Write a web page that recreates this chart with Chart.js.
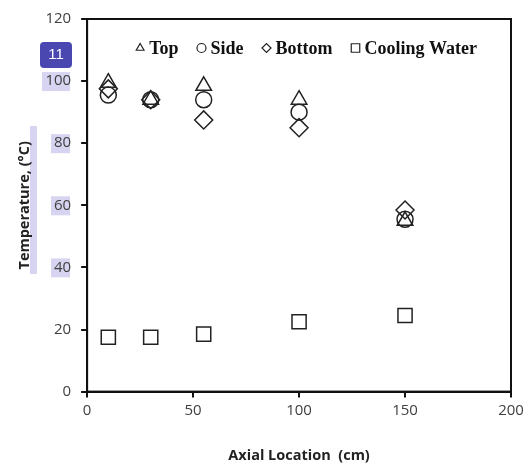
<!DOCTYPE html>
<html>
<head>
<meta charset="utf-8">
<script src="https://cdn.jsdelivr.net/npm/chart.js@4/dist/chart.umd.min.js"></script>
<style>
  html, body { margin: 0; padding: 0; background: #fff; }
  #wrap { width: 525px; height: 465px; }
</style>
</head>
<body>
<div id="wrap"><canvas id="myChart"></canvas></div>
<script>
var xValues = [10, 30, 55, 100, 150];
var topTemps = [99.5, 94, 98.5, 94, 55];
var sideTemps = [95.5, 94, 94, 90, 55.5];
var bottomTemps = [97.5, 94, 87.5, 85, 58.5];
var waterTemps = [17.5, 17.5, 18.5, 22.5, 24.5];
var highlightTicks = [100, 80, 60, 40];

function pts(ys) {
  return xValues.map(function (x, i) { return {x: x, y: ys[i]}; });
}

// box round the plot area
var frame = {
  id: "frame",
  afterDatasetsDraw: function (chart) {
    var a = chart.chartArea, ctx = chart.ctx;
    ctx.save();
    ctx.strokeStyle = "#111";
    ctx.lineWidth = 2;
    ctx.strokeRect(a.left, a.top, a.right - a.left, a.bottom - a.top);
    ctx.restore();
  }
};

// one-row key inside the plot, near the top
var inlineKey = {
  id: "inlineKey",
  afterDatasetsDraw: function (chart) {
    var ctx = chart.ctx, a = chart.chartArea;
    var sets = chart.data.datasets;
    ctx.save();
    ctx.font = "bold 18px 'Liberation Serif', serif";
    ctx.textBaseline = "middle";
    var symW = 8, gapSym = 5, gapItem = 19;
    var x = a.left + 49;
    var y = a.top + 29;
    sets.forEach(function (ds) {
      ctx.strokeStyle = "#222";
      ctx.fillStyle = "#fff";
      ctx.lineWidth = 1.2;
      Chart.helpers.drawPoint(ctx, {pointStyle: ds.pointStyle, radius: ds.pointStyle === "rect" ? 6 : 4.5, borderWidth: 1.2}, x + symW / 2, y);
      ctx.fillStyle = "#111";
      ctx.fillText(ds.label, x + symW + gapSym, y + 1);
      x += symW + gapSym + ctx.measureText(ds.label).width + gapItem;
    });
    ctx.restore();
  }
};

// lavender marks behind some labels, and the "11" tag
var marks = {
  id: "marks",
  beforeDraw: function (chart) {
    var ctx = chart.ctx, y = chart.scales.y;
    ctx.save();
    ctx.fillStyle = "#d6d4f0";
    highlightTicks.forEach(function (v) {
      var py = y.getPixelForValue(v);
      var w = v >= 100 ? 28 : 19;
      ctx.fillRect(70 - w, py - 9, w, 19);
    });
    ctx.fillRect(30, 126, 7, 148);
    ctx.restore();
  },
  afterDraw: function (chart) {
    var ctx = chart.ctx;
    ctx.save();
    ctx.fillStyle = "#4b47b0";
    ctx.beginPath();
    ctx.roundRect(40, 42, 32, 26, 4);
    ctx.fill();
    ctx.fillStyle = "#fff";
    ctx.font = "15px 'Liberation Sans', sans-serif";
    ctx.textAlign = "center";
    ctx.textBaseline = "middle";
    ctx.fillText("11", 56, 55);
    ctx.restore();
  }
};

var common = {
  showLine: false,
  borderColor: "#222",
  backgroundColor: "rgba(0,0,0,0)",
  borderWidth: 1.5
};

new Chart("myChart", {
  type: "scatter",
  data: {
    datasets: [
      Object.assign({label: "Top", data: pts(topTemps), pointStyle: "triangle", pointRadius: 9}, common),
      Object.assign({label: "Side", data: pts(sideTemps), pointStyle: "circle", pointRadius: 8}, common),
      Object.assign({label: "Bottom", data: pts(bottomTemps), pointStyle: "rectRot", pointRadius: 9}, common),
      Object.assign({label: "Cooling Water", data: pts(waterTemps), pointStyle: "rect", pointRadius: 10}, common)
    ]
  },
  options: {
    responsive: true,
    maintainAspectRatio: false,
    animation: false,
    layout: {padding: {top: 8, right: 14, left: 16, bottom: 0}},
    plugins: {
      tooltip: {enabled: false},
      legend: {display: false}
    },
    scales: {
      x: {
        type: "linear",
        min: 0, max: 200,
        // let the last label run to the edge
        afterFit: function (scale) { scale.paddingRight = 0; },
        ticks: {stepSize: 50, color: "#404040", font: {family: "'Open Sans', sans-serif", size: 15}, padding: 4},
        grid: {drawOnChartArea: false, drawTicks: true, tickLength: 6, color: "#111", lineWidth: 2},
        border: {color: "#111", width: 2},
        title: {display: true, text: "Axial Location  (cm)", color: "#222",
          font: {family: "'Open Sans', sans-serif", size: 14.5, weight: "bold"}, padding: {top: 24, bottom: 0}}
      },
      y: {
        min: 0, max: 120,
        ticks: {stepSize: 20, color: "#404040", font: {family: "'Open Sans', sans-serif", size: 15}, padding: 10},
        grid: {drawOnChartArea: false, drawTicks: true, tickLength: 6, color: "#111", lineWidth: 2},
        border: {color: "#111", width: 2},
        title: {display: true, text: "Temperature, (°C)", color: "#222",
          font: {family: "'Open Sans', sans-serif", size: 14.5, weight: "bold"}, padding: {top: 0, bottom: 2}}
      }
    }
  },
  plugins: [marks, frame, inlineKey]
});
</script>
</body>
</html>
